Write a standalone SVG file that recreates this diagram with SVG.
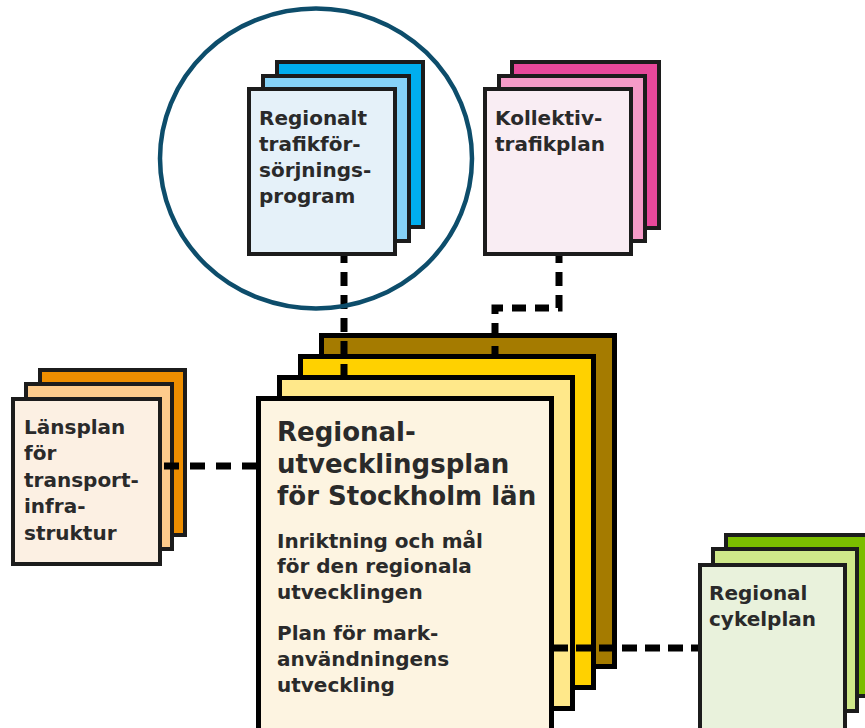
<svg xmlns="http://www.w3.org/2000/svg" width="865" height="728" viewBox="0 0 865 728">
<style>
.pg{stroke:#1c1c1c;stroke-width:4}
.pc{stroke:#000;stroke-width:5}
.t{font-family:"DejaVu Sans","Liberation Sans",sans-serif;font-weight:bold;font-size:20px;fill:#2a2a2a}
.tb{font-size:26px}
.con{fill:none;stroke:#000;stroke-width:7;stroke-dasharray:14 9}
</style>
<rect width="865" height="728" fill="#fff"/>

<g id="node-rtfp">
<rect class="pg" x="277" y="62" width="146" height="165" fill="#00aeef"/>
<rect class="pg" x="263" y="76" width="146" height="165" fill="#86d2f7"/>
<rect class="pg" x="249" y="89" width="146" height="165" fill="#e5f1f9"/>
<text class="t" x="259"><tspan x="259" y="125">Regionalt</tspan><tspan x="259" y="151">trafikför-</tspan><tspan x="259" y="177">sörjnings-</tspan><tspan x="259" y="203">program</tspan></text>
</g>

<g id="node-kollektiv">
<rect class="pg" x="512" y="62" width="147" height="166" fill="#e8489b"/>
<rect class="pg" x="499" y="76" width="146" height="165" fill="#f59bc8"/>
<rect class="pg" x="485" y="89" width="146" height="165" fill="#f9edf3"/>
<text class="t"><tspan x="495" y="125">Kollektiv-</tspan><tspan x="495" y="151">trafikplan</tspan></text>
</g>

<g id="node-lansplan">
<rect class="pg" x="40" y="370" width="145" height="165" fill="#ee8e00"/>
<rect class="pg" x="26" y="384" width="146" height="165" fill="#fdcb8c"/>
<rect class="pg" x="13" y="399" width="147" height="165" fill="#fcf0e3"/>
<text class="t"><tspan x="24" y="434">Länsplan</tspan><tspan x="24" y="460">för</tspan><tspan x="24" y="487">transport-</tspan><tspan x="24" y="513">infra-</tspan><tspan x="24" y="540">struktur</tspan></text>
</g>

<g id="node-cykel">
<rect class="pg" x="726" y="535" width="150" height="161" fill="#7bbd00"/>
<rect class="pg" x="713" y="549" width="144" height="162" fill="#cfe88a"/>
<rect class="pg" x="700" y="565" width="145" height="170" fill="#e9f2dc"/>
<text class="t"><tspan x="709" y="600">Regional</tspan><tspan x="709" y="626">cykelplan</tspan></text>
</g>

<g id="node-rufs">
<rect class="pc" x="321.5" y="335.5" width="293" height="331" fill="#a57b00"/>
<rect class="pc" x="300.5" y="356.5" width="293" height="331" fill="#ffd100"/>
<rect class="pc" x="279.5" y="377.5" width="293" height="331" fill="#ffe88a"/>
<rect class="pc" x="258.5" y="398.5" width="293" height="340" fill="#fdf4e1"/>
<text class="t tb"><tspan x="277" y="441">Regional-</tspan><tspan x="277" y="473">utvecklingsplan</tspan><tspan x="277" y="505">för Stockholm län</tspan></text>
<text class="t"><tspan x="277" y="548">Inriktning och mål</tspan><tspan x="277" y="573">för den regionala</tspan><tspan x="277" y="599">utvecklingen</tspan><tspan x="277" y="640">Plan för mark-</tspan><tspan x="277" y="666">användningens</tspan><tspan x="277" y="692">utveckling</tspan></text>
</g>

<g id="connectors">
<path class="con" d="M344 256 V377" stroke-dashoffset="7"/>
<path class="con" d="M559 256 V308 H495 V355" stroke-dashoffset="7"/>
<path class="con" d="M257 466 H162" style="stroke-dasharray:15 11"/>
<path class="con" d="M553 648 H698" style="stroke-dasharray:15 8"/>
</g>

<g id="highlight">
<ellipse cx="316" cy="158.5" rx="156" ry="150" fill="none" stroke="#0d4d6b" stroke-width="4.5"/>
</g>
</svg>
